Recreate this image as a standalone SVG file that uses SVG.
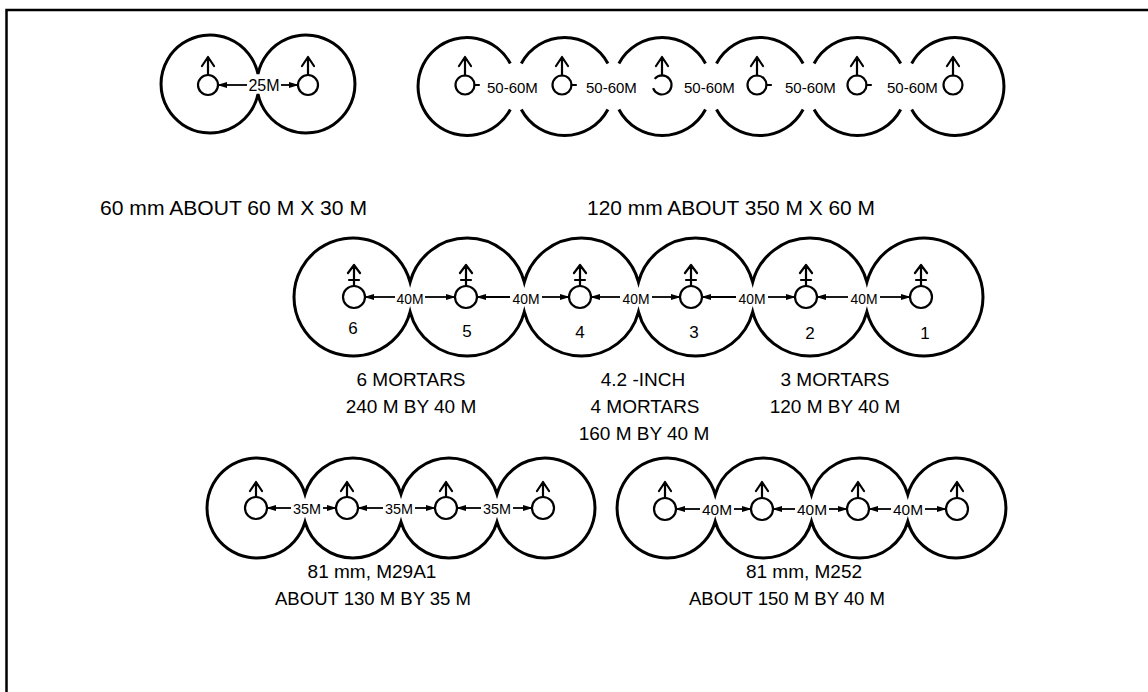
<svg xmlns="http://www.w3.org/2000/svg" width="1148" height="692" viewBox="0 0 1148 692">
<style>
.outline{fill:none;stroke:#000;stroke-width:3}
.gun{fill:#fff;stroke:#000;stroke-width:2.2}
.dir{fill:none;stroke:#000;stroke-width:2.2;stroke-linecap:round;stroke-linejoin:round}
.dist{fill:none;stroke:#000;stroke-width:1.8}
.frame{fill:none;stroke:#000;stroke-width:2.5}
.cap{font-family:"Liberation Sans",Arial,Helvetica,sans-serif;font-size:19px;fill:#000;text-anchor:middle}
.cap1{font-family:"Liberation Sans",Arial,Helvetica,sans-serif;font-size:21px;fill:#000}
.lbl{font-family:"Liberation Sans",Arial,Helvetica,sans-serif;font-size:15px;fill:#000}
.lblc{font-family:"Liberation Sans",Arial,Helvetica,sans-serif;font-size:15px;fill:#000;text-anchor:middle}
.num{font-family:"Liberation Sans",Arial,Helvetica,sans-serif;font-size:17px;fill:#000;text-anchor:middle}
</style>
<defs>
<marker id="ah" viewBox="0 0 10 7" refX="9" refY="3.5" markerWidth="10" markerHeight="7" markerUnits="userSpaceOnUse" orient="auto"><path d="M0,0.5 L10,3.5 L0,6.5z" fill="#000"/></marker>
</defs>
<rect width="1148" height="692" fill="#fff"/>
<path class="frame" d="M6.5,692 V10 H1148"/>

<g id="mortar-60mm">
<path class="outline" d="M258,74 A49,49 0 1 0 258,94 A49,49 0 1 0 258,74Z"/>
<circle class="gun" cx="208" cy="85" r="10"/>
<circle class="gun" cx="308" cy="85" r="10"/>
<path class="dir" d="M208,75 V57 M202,66 L208,57 L214,66 M308,75 V57 M302,66 L308,57 L314,66"/>
<text class="lblc" x="264" y="91" style="font-size:16px">25M</text>
<text class="cap1" x="100" y="215" textLength="267" lengthAdjust="spacingAndGlyphs">60 mm ABOUT 60 M X 30 M</text>
</g>

<g id="mortar-120mm">
<path class="outline" d="M510.3,63.5 A49,49 0 1 0 510.3,109.5"/>
<path class="outline" d="M521.3,63.5 A49,49 0 0 1 607.9,63.5 M521.3,109.5 A49,49 0 0 0 607.9,109.5"/>
<path class="outline" d="M618.9,63.5 A49,49 0 0 1 705.5,63.5 M618.9,109.5 A49,49 0 0 0 705.5,109.5"/>
<path class="outline" d="M716.5,63.5 A49,49 0 0 1 803.1,63.5 M716.5,109.5 A49,49 0 0 0 803.1,109.5"/>
<path class="outline" d="M814.1,63.5 A49,49 0 0 1 900.7,63.5 M814.1,109.5 A49,49 0 0 0 900.7,109.5"/>
<path class="outline" d="M911.7,109.5 A49,49 0 1 0 911.7,63.5"/>
<circle class="gun" cx="465" cy="85" r="9.5"/>
<circle class="gun" cx="562" cy="85" r="9.5"/>
<path class="gun" fill="none" d="M654.7,78.9 A9.5,9.5 0 1 1 653.1,88.2"/>
<circle class="gun" cx="757" cy="85" r="9.5"/>
<circle class="gun" cx="857" cy="85" r="9.5"/>
<circle class="gun" cx="953" cy="85" r="9.5"/>
<path class="dir" d="M474.5,85 H479 M571.5,85 H576 M766.5,85 H771 M866.5,85 H871"/>
<path class="dir" d="M465,75.5 V57 M459,66 L465,57 L471,66 M562,75.5 V57 M556,66 L562,57 L568,66 M662,75.5 V57 M656,66 L662,57 L668,66 M757,75.5 V57 M751,66 L757,57 L763,66 M857,75.5 V57 M851,66 L857,57 L863,66 M953,75.5 V57 M947,66 L953,57 L959,66"/>
<text class="lbl" x="487" y="93">50-60M</text>
<text class="lbl" x="586" y="93">50-60M</text>
<text class="lbl" x="684" y="93">50-60M</text>
<text class="lbl" x="785" y="93">50-60M</text>
<text class="lbl" x="887" y="93">50-60M</text>
<text class="cap1" x="587" y="215" textLength="288" lengthAdjust="spacingAndGlyphs">120 mm ABOUT 350 M X 60 M</text>
</g>

<g id="mortar-4-2-inch">
<path class="outline" d="M410.1,282.15 A59,59 0 1 0 410.1,311.85 A59,59 0 0 0 524.3,311.85 A59,59 0 0 0 638.5,311.85 A59,59 0 0 0 752.7,311.85 A59,59 0 0 0 866.9,311.85 A59,59 0 1 0 866.9,282.15 A59,59 0 0 0 752.7,282.15 A59,59 0 0 0 638.5,282.15 A59,59 0 0 0 524.3,282.15 A59,59 0 0 0 410.1,282.15Z"/>
<circle class="gun" cx="354" cy="297" r="11"/>
<circle class="gun" cx="466" cy="297" r="11"/>
<circle class="gun" cx="580" cy="297" r="11"/>
<circle class="gun" cx="691" cy="297" r="11"/>
<circle class="gun" cx="806" cy="297" r="11"/>
<circle class="gun" cx="921" cy="297" r="11"/>
<path class="dir" d="M354,286 V265 M348,273 L354,265 L360,273 M349,280 H359 M466,286 V265 M460,273 L466,265 L472,273 M461,280 H471 M580,286 V265 M574,273 L580,265 L586,273 M575,280 H585 M691,286 V265 M685,273 L691,265 L697,273 M686,280 H696 M806,286 V265 M800,273 L806,265 L812,273 M801,280 H811 M921,286 V265 M915,273 L921,265 L927,273 M916,280 H926"/>
<text class="lblc" x="410" y="304" textLength="27" lengthAdjust="spacingAndGlyphs">40M</text>
<text class="lblc" x="526" y="304" textLength="27" lengthAdjust="spacingAndGlyphs">40M</text>
<text class="lblc" x="636" y="304" textLength="27" lengthAdjust="spacingAndGlyphs">40M</text>
<text class="lblc" x="752" y="304" textLength="27" lengthAdjust="spacingAndGlyphs">40M</text>
<text class="lblc" x="864" y="304" textLength="27" lengthAdjust="spacingAndGlyphs">40M</text>
<text class="num" x="353" y="334">6</text>
<text class="num" x="467" y="337">5</text>
<text class="num" x="580" y="338">4</text>
<text class="num" x="694" y="338">3</text>
<text class="num" x="810" y="339">2</text>
<text class="num" x="925" y="339">1</text>
<text class="cap" x="411" y="386">6 MORTARS</text>
<text class="cap" x="411" y="413">240 M BY 40 M</text>
<text class="cap" x="643" y="386">4.2 -INCH</text>
<text class="cap" x="645" y="413">4 MORTARS</text>
<text class="cap" x="644" y="440">160 M BY 40 M</text>
<text class="cap" x="835" y="386">3 MORTARS</text>
<text class="cap" x="835" y="413">120 M BY 40 M</text>
</g>

<g id="mortar-81mm-m29a1">
<path class="outline" d="M305,494 A50,50 0 1 0 305,522 A50,50 0 0 0 401,522 A50,50 0 0 0 497,522 A50,50 0 1 0 497,494 A50,50 0 0 0 401,494 A50,50 0 0 0 305,494Z"/>
<circle class="gun" cx="256" cy="508" r="11"/>
<circle class="gun" cx="347" cy="508" r="11"/>
<circle class="gun" cx="446" cy="508" r="11"/>
<circle class="gun" cx="543" cy="508" r="11"/>
<path class="dir" d="M256,497 V482 M250,491 L256,482 L262,491 M347,497 V482 M341,491 L347,482 L353,491 M446,497 V482 M440,491 L446,482 L452,491 M543,497 V482 M537,491 L543,482 L549,491"/>
<text class="lblc" x="307" y="514" textLength="28" lengthAdjust="spacingAndGlyphs">35M</text>
<text class="lblc" x="399" y="514" textLength="28" lengthAdjust="spacingAndGlyphs">35M</text>
<text class="lblc" x="497" y="514" textLength="28" lengthAdjust="spacingAndGlyphs">35M</text>
<text class="cap" x="372" y="578">81 mm, M29A1</text>
<text class="cap" x="373" y="605" textLength="196" lengthAdjust="spacingAndGlyphs">ABOUT 130 M BY 35 M</text>
</g>

<g id="mortar-81mm-m252">
<path class="outline" d="M715.2,494.5 A50,50 0 1 0 715.2,521.5 A50,50 0 0 0 811.5,521.5 A50,50 0 0 0 907.8,521.5 A50,50 0 1 0 907.8,494.5 A50,50 0 0 0 811.5,494.5 A50,50 0 0 0 715.2,494.5Z"/>
<circle class="gun" cx="665" cy="509" r="11"/>
<circle class="gun" cx="762" cy="509" r="11"/>
<circle class="gun" cx="858" cy="509" r="11"/>
<circle class="gun" cx="957" cy="509" r="11"/>
<path class="dir" d="M665,498 V482 M659,491 L665,482 L671,491 M762,498 V482 M756,491 L762,482 L768,491 M858,498 V482 M852,491 L858,482 L864,491 M957,498 V482 M951,491 L957,482 L963,491"/>
<text class="lblc" x="717" y="515" textLength="30" lengthAdjust="spacingAndGlyphs">40M</text>
<text class="lblc" x="812" y="515" textLength="30" lengthAdjust="spacingAndGlyphs">40M</text>
<text class="lblc" x="908" y="515" textLength="30" lengthAdjust="spacingAndGlyphs">40M</text>
<text class="cap" x="804" y="578">81 mm, M252</text>
<text class="cap" x="787" y="605" textLength="196" lengthAdjust="spacingAndGlyphs">ABOUT 150 M BY 40 M</text>
</g>

<g id="connectors">
<path class="dist" marker-end="url(#ah)" d="M247,85 H218"/>
<path class="dist" marker-end="url(#ah)" d="M281,85 H298"/>
<path class="dist" marker-end="url(#ah)" d="M395,297 H365"/>
<path class="dist" marker-end="url(#ah)" d="M425,297 H455"/>
<path class="dist" marker-end="url(#ah)" d="M510,297 H477"/>
<path class="dist" marker-end="url(#ah)" d="M542,297 H569"/>
<path class="dist" marker-end="url(#ah)" d="M620,297 H591"/>
<path class="dist" marker-end="url(#ah)" d="M652,297 H680"/>
<path class="dist" marker-end="url(#ah)" d="M736,297 H702"/>
<path class="dist" marker-end="url(#ah)" d="M768,297 H795"/>
<path class="dist" marker-end="url(#ah)" d="M848,297 H817"/>
<path class="dist" marker-end="url(#ah)" d="M880,297 H910"/>
<path class="dist" marker-end="url(#ah)" d="M291,508 H267"/>
<path class="dist" marker-end="url(#ah)" d="M323,508 H336"/>
<path class="dist" marker-end="url(#ah)" d="M383,508 H358"/>
<path class="dist" marker-end="url(#ah)" d="M415,508 H435"/>
<path class="dist" marker-end="url(#ah)" d="M481,508 H457"/>
<path class="dist" marker-end="url(#ah)" d="M513,508 H532"/>
<path class="dist" marker-end="url(#ah)" d="M700,509 H676"/>
<path class="dist" marker-end="url(#ah)" d="M734,509 H751"/>
<path class="dist" marker-end="url(#ah)" d="M795,509 H773"/>
<path class="dist" marker-end="url(#ah)" d="M829,509 H847"/>
<path class="dist" marker-end="url(#ah)" d="M891,509 H869"/>
<path class="dist" marker-end="url(#ah)" d="M925,509 H946"/>
</g>
</svg>
